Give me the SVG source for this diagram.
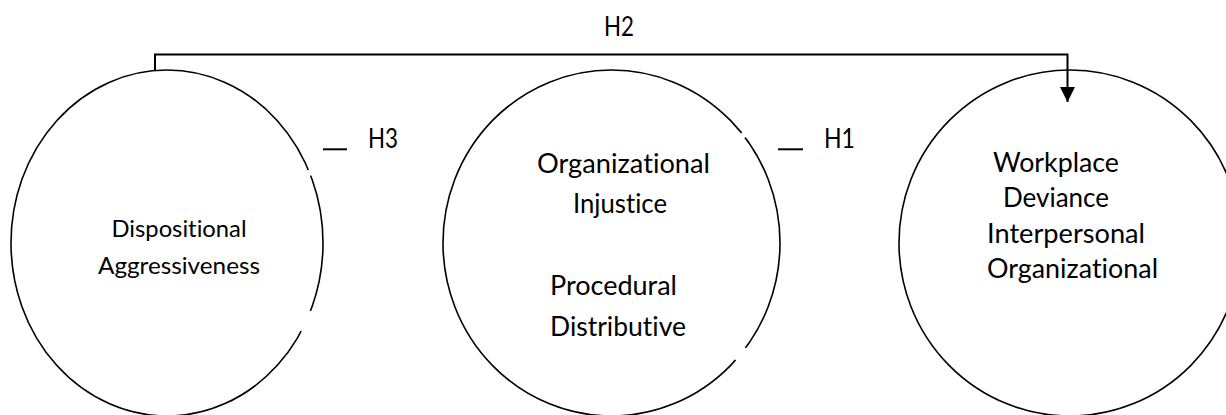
<svg xmlns="http://www.w3.org/2000/svg" width="1226" height="415" viewBox="0 0 1226 415">
<style>
  .node ellipse { fill: none; stroke: #000; stroke-width: 1.6; }
  .gap { stroke: #fff; stroke-width: 4; stroke-linecap: butt; fill: none; }
  text { font-variant-ligatures: none; font-feature-settings: "liga" 0, "clig" 0; }
  .t { font-family: Lato, "Liberation Sans", sans-serif; fill: #000; }
  .s22 { font-size: 23.5px; }
  .s25 { font-size: 27px; }
  .lbl { font-family: Lato, "Liberation Sans", sans-serif; font-size: 26px; fill: #000; }
  .conn { fill: none; stroke: #000; stroke-width: 2; }
  .dash { stroke: #000; stroke-width: 2; }
</style>
<defs>
  <marker id="arrow" viewBox="0 0 15 15" refX="15" refY="7.5" markerWidth="15" markerHeight="15" markerUnits="userSpaceOnUse" orient="auto">
    <path d="M0,0 L15,7.5 L0,15 Z" fill="#000"/>
  </marker>
</defs>
<rect width="1226" height="415" fill="#fff"/>

<g id="node-dispositional" class="node">
  <ellipse cx="167" cy="243" rx="156" ry="173"/>
  <line class="gap" x1="308.4" y1="170" x2="310.7" y2="175.5"/>
  <line class="gap" x1="310.6" y1="311" x2="301.2" y2="331"/>
  <text class="t s22" x="111.5" y="237" textLength="135" lengthAdjust="spacingAndGlyphs">Dispositional</text>
  <text class="t s22" x="98" y="273.5" textLength="162" lengthAdjust="spacingAndGlyphs">Aggressiveness</text>
</g>

<g id="node-injustice" class="node">
  <ellipse cx="611.5" cy="243" rx="168.5" ry="173"/>
  <line class="gap" x1="741.6" y1="133" x2="745.1" y2="137.5"/>
  <line class="gap" x1="745.5" y1="348" x2="735.7" y2="360"/>
  <text class="t s25" x="537" y="172.5" textLength="173" lengthAdjust="spacingAndGlyphs">Organizational</text>
  <text class="t s25" x="573" y="213" textLength="94" lengthAdjust="spacingAndGlyphs">Injustice</text>
  <text class="t s25" x="550" y="295" textLength="127" lengthAdjust="spacingAndGlyphs">Procedural</text>
  <text class="t s25" x="550" y="336" textLength="136" lengthAdjust="spacingAndGlyphs">Distributive</text>
</g>

<g id="node-deviance" class="node">
  <ellipse cx="1070" cy="243" rx="171" ry="173"/>
  <text class="t s25" x="993" y="172" textLength="126" lengthAdjust="spacingAndGlyphs">Workplace</text>
  <text class="t s25" x="1003" y="207" textLength="106" lengthAdjust="spacingAndGlyphs">Deviance</text>
  <text class="t s25" x="987" y="243" textLength="158" lengthAdjust="spacingAndGlyphs">Interpersonal</text>
  <text class="t s25" x="987" y="278" textLength="171" lengthAdjust="spacingAndGlyphs">Organizational</text>
</g>

<g id="connectors">
  <path id="h2-path" class="conn" d="M155,70 V54.5 H1067.5 V102" marker-end="url(#arrow)"/>
  <text class="lbl" x="604" y="35.7" textLength="30" lengthAdjust="spacingAndGlyphs">H2</text>
  <line class="dash" x1="323" y1="149.3" x2="347" y2="149.3"/>
  <text class="lbl" x="368" y="148.3" textLength="30" lengthAdjust="spacingAndGlyphs">H3</text>
  <line class="dash" x1="778" y1="149.3" x2="803" y2="149.3"/>
  <text class="lbl" x="824" y="148.3" textLength="31" lengthAdjust="spacingAndGlyphs">H1</text>
</g>
</svg>
